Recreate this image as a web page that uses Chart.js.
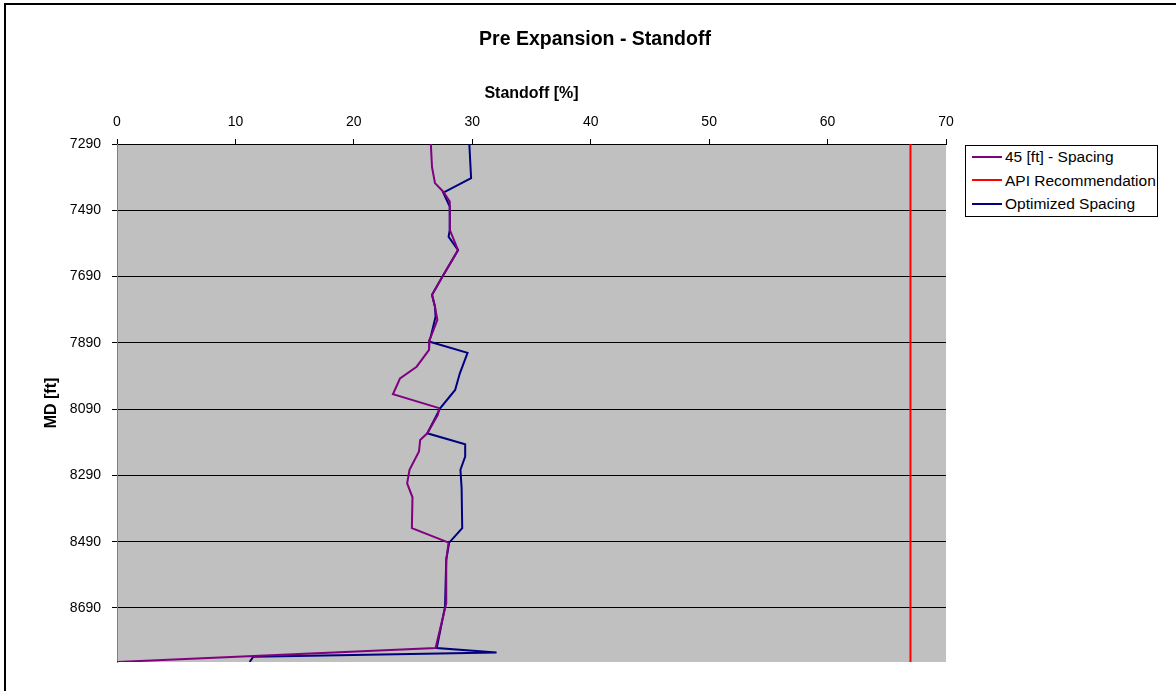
<!DOCTYPE html>
<html>
<head>
<meta charset="utf-8">
<script src="https://cdn.jsdelivr.net/npm/chart.js@4.4.1/dist/chart.umd.min.js"></script>
<style>
  html,body{margin:0;padding:0;background:#fff;overflow:hidden}
  #wrap{position:relative;width:1176px;height:691px}
  #frame{position:absolute;left:4px;top:3px;width:1300px;height:800px;border-left:2px solid #000;border-top:2px solid #000;pointer-events:none}
  #lg{position:absolute;left:965px;top:145px;width:191px;height:70px;border:1px solid #000;background:#fff;
      font-family:"Liberation Sans",Arial,sans-serif;font-size:15.5px;color:#000}
  .row{position:absolute;left:6px;height:20px;line-height:20px;white-space:nowrap}
  .row i{display:inline-block;width:30px;height:2px;vertical-align:middle;margin-right:3px;position:relative;top:-1px}
</style>
</head>
<body>
<div id="wrap">
  <canvas id="c" width="1176" height="691"></canvas>
  <div id="frame"></div>
  <div id="lg"></div>
</div>
<script>
// depth axis (MD) and standoff values
const md45 =[7290,7360,7408,7434,7464,7549,7610,7695,7745,7781,7821,7881,7911,7962,7997,8045,8087,8107,8163,8183,8218,8273,8314,8356,8449,8493,8545,8676,8811,8853];
const so45 =[26.5,26.6,26.85,27.55,28.1,28.1,28.8,27.4,26.6,26.85,27.05,26.4,26.35,25.3,23.9,23.3,27.2,27.1,26.2,25.6,25.5,24.7,24.5,24.95,24.9,28.0,27.8,27.8,26.9,0.0];
const mdOpt=[7290,7393,7437,7479,7549,7570,7610,7695,7745,7781,7811,7870,7886,7920,7982,8032,8087,8163,8196,8233,8273,8329,8449,8493,8545,8686,8811,8824,8837,8853];
const soOpt=[29.75,29.9,27.55,28.1,28.1,28.0,28.8,27.4,26.6,26.85,26.9,26.5,26.35,29.6,28.95,28.55,27.3,26.2,29.4,29.4,29.0,29.1,29.15,28.05,27.8,27.7,27.0,32.05,11.5,11.2];
const mdApi=[7290,8853];
const soApi=[67,67];
const yTicks=[7290,7490,7690,7890,8090,8290,8490,8690];
const names=['45 [ft] - Spacing','API Recommendation','Optimized Spacing'];
const cols=['#800080','#ff0000','#000080'];

const F='"Liberation Sans",Arial,sans-serif';
const pts=(xs,ys)=>xs.map((x,i)=>({x,y:ys[i]}));

const plotBg={id:'plotBg',beforeDraw(ch){const a=ch.chartArea,g=ch.ctx;g.save();g.fillStyle='#c0c0c0';g.fillRect(a.left,a.top,a.right-a.left,a.bottom-a.top);g.restore();}};

new Chart(document.getElementById('c'),{
  type:'scatter',
  data:{datasets:[
    {label:names[0],data:pts(so45,md45),borderColor:cols[0],borderWidth:2,showLine:true,pointRadius:0,tension:0},
    {label:names[1],data:pts(soApi,mdApi),borderColor:cols[1],borderWidth:2,showLine:true,pointRadius:0,tension:0},
    {label:names[2],data:pts(soOpt,mdOpt),borderColor:cols[2],borderWidth:2,showLine:true,pointRadius:0,tension:0}
  ]},
  options:{
    responsive:false,animation:false,
    layout:{padding:{left:14,right:0,top:0,bottom:29}},
    plugins:{
      legend:{display:false},tooltip:{enabled:false},
      title:{display:true,text:'Pre Expansion - Standoff',color:'#000',font:{family:F,size:19.5,weight:'bold'},padding:{top:28.3,bottom:8.3}}
    },
    scales:{
      x:{type:'linear',position:'top',min:0,max:70,
        ticks:{stepSize:10,color:'#000',font:{family:F,size:14},padding:8},
        grid:{drawOnChartArea:false,drawTicks:true,tickLength:5,color:'#000'},
        border:{display:true,color:'#000'},
        title:{display:true,text:'Standoff [%]',color:'#000',font:{family:F,size:16,weight:'bold'},padding:{top:24.4,bottom:0}},
        afterFit(s){s.height=84;}
      },
      y:{type:'linear',reverse:true,min:7290,max:8853,
        afterBuildTicks(s){s.ticks=yTicks.map(v=>({value:v}));},
        ticks:{color:'#000',font:{family:F,size:14},padding:11,callback:v=>String(v)},
        grid:{color:'#000',lineWidth:1,drawTicks:true,tickLength:5},
        border:{display:true,color:'#808080',width:1},
        title:{display:true,text:'MD [ft]',color:'#000',font:{family:F,size:16,weight:'bold'},padding:{top:28.4,bottom:0}},
        afterFit(s){s.width=103;}
      },
      // empty right-hand box that reserves the room used by the legend
      side:{type:'linear',position:'right',display:true,
        ticks:{display:false},grid:{display:false},border:{display:false},
        afterFit(s){s.width=230;}
      }
    }
  },
  plugins:[plotBg]
});

const lg=document.getElementById('lg');
names.forEach((n,i)=>{
  const r=document.createElement('div');r.className='row';r.style.top=(i*23.5+1)+'px';
  r.innerHTML=`<i style="background:${cols[i]}"></i>${n}`;lg.appendChild(r);
});
</script>
</body>
</html>
